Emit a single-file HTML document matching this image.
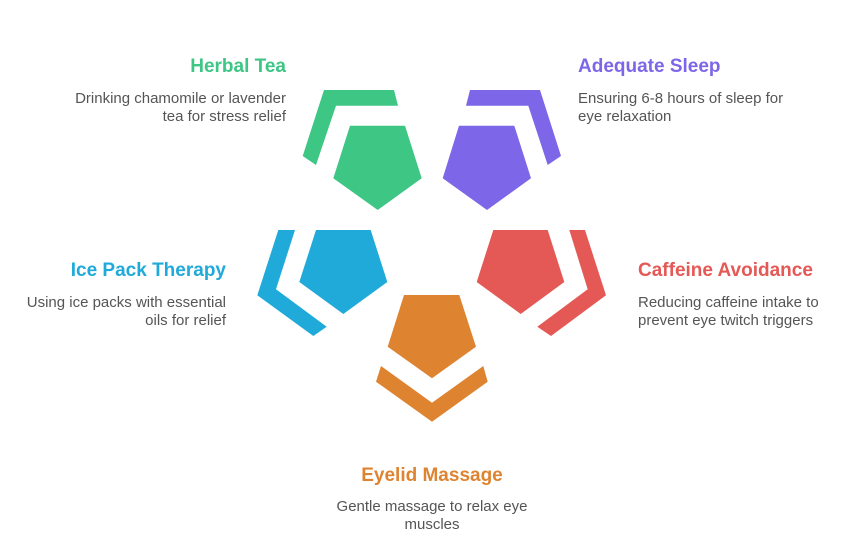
<!DOCTYPE html>
<html><head><meta charset="utf-8"><style>
html,body{margin:0;padding:0;background:#fff;}
svg{display:block;}
text{font-family:"Liberation Sans",Arial,sans-serif;}
.t{font-size:19px;font-weight:bold;}
.d{font-size:15px;fill:#555;}
</style></head><body>
<svg width="852" height="536" viewBox="0 0 852 536" xmlns="http://www.w3.org/2000/svg">
<polygon fill="#3ec685" points="350,125.7 405,125.7 421.7,178.3 377.7,210 333.3,178.3"/>
<polygon fill="#3ec685" points="324,90 394,90 398,105.7 336,105.7 316,165 302.7,156"/>
<polygon fill="#7d66e8" points="459,125.7 514.3,125.7 531,178.3 487,210 442.7,178.3"/>
<polygon fill="#7d66e8" points="470,90 540,90 561,156 547.7,165 528.3,105.7 466,105.7"/>
<polygon fill="#1faad9" points="316,230 370.7,230 387.3,282 343.3,314 299.3,282"/>
<polygon fill="#1faad9" points="278.3,230 295,230 276,289.3 326.7,326.7 313.3,336 257.3,295.3"/>
<polygon fill="#e45955" points="493.3,230 547.7,230 564.3,282 520.7,314 476.7,282"/>
<polygon fill="#e45955" points="569.3,230 585,230 606,295.3 551,336 537.3,326.7 587.7,289.3"/>
<polygon fill="#de8431" points="404,295 459.3,295 476,346.7 432,378.3 387.7,346.7"/>
<polygon fill="#de8431" points="381,366 432,402.7 483.3,366 487.7,381.7 432,421.7 376,381.7"/>

<text class="t" x="286" y="72" text-anchor="end" fill="#3ec685">Herbal Tea</text>
<text class="d" x="286" y="103" text-anchor="end">Drinking chamomile or lavender</text>
<text class="d" x="286" y="121" text-anchor="end">tea for stress relief</text>

<text class="t" x="578" y="72" fill="#7d66e8">Adequate Sleep</text>
<text class="d" x="578" y="103">Ensuring 6-8 hours of sleep for</text>
<text class="d" x="578" y="121">eye relaxation</text>

<text class="t" x="226" y="276" text-anchor="end" fill="#1faad9">Ice Pack Therapy</text>
<text class="d" x="226" y="307" text-anchor="end">Using ice packs with essential</text>
<text class="d" x="226" y="325" text-anchor="end">oils for relief</text>

<text class="t" x="638" y="276" fill="#e45955">Caffeine Avoidance</text>
<text class="d" x="638" y="307">Reducing caffeine intake to</text>
<text class="d" x="638" y="325">prevent eye twitch triggers</text>

<text class="t" x="432" y="481" text-anchor="middle" fill="#de8431">Eyelid Massage</text>
<text class="d" x="432" y="511" text-anchor="middle">Gentle massage to relax eye</text>
<text class="d" x="432" y="529" text-anchor="middle">muscles</text>
</svg>
</body></html>
